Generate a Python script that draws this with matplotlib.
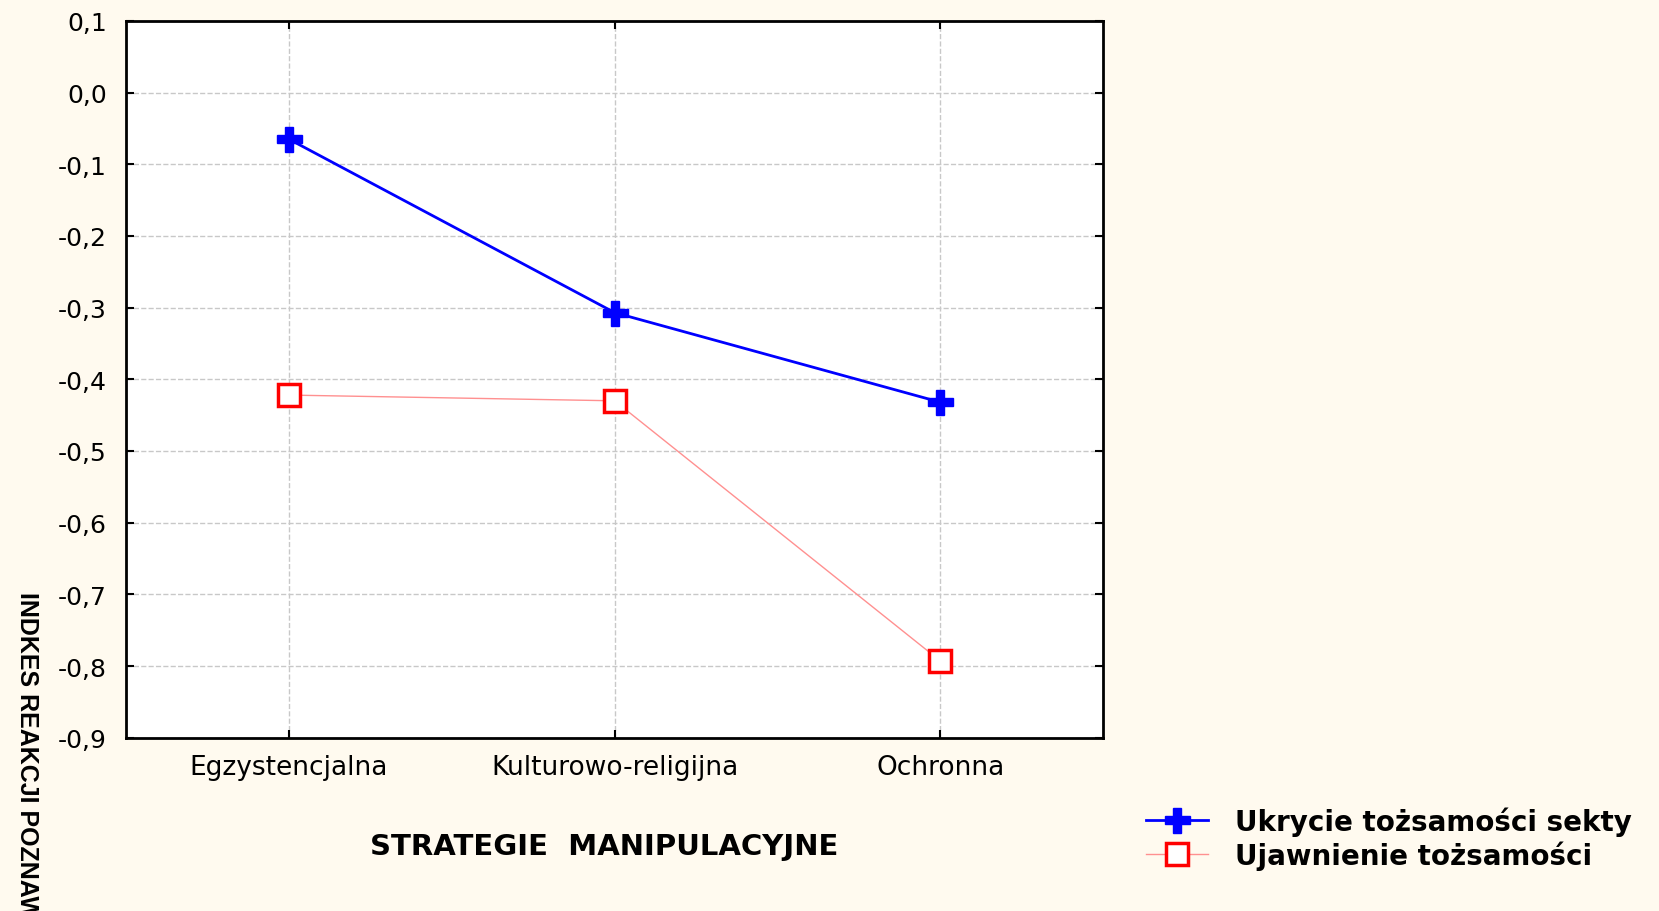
import numpy as np
import matplotlib.pyplot as plt

categories = ["Egzystencjalna", "Kulturowo-religijna", "Ochronna"]
ukrycie = [-0.065, -0.307, -0.432]
ujawnienie = [-0.422, -0.430, -0.793]
yticks = [0.1, 0.0, -0.1, -0.2, -0.3, -0.4, -0.5, -0.6, -0.7, -0.8, -0.9]

bg = "#fffaef"
fig = plt.figure(figsize=(16.59, 9.12), dpi=100, facecolor=bg)
ax = fig.add_axes([0.076, 0.190, 0.589, 0.786])
ax.set_facecolor("white")

x = np.arange(len(categories))
ax.plot(x, ukrycie, color="#0000ff", lw=2, marker="P", ms=18,
        mfc="#0000ff", mec="#0000ff", label="Ukrycie tożsamości sekty")
ax.plot(x, ujawnienie, color="#ff9090", lw=1, marker="s", ms=16,
        mfc="white", mec="#ff0000", mew=2.5, label="Ujawnienie tożsamości")

ax.set_xlim(-0.5, 2.5)
ax.set_ylim(-0.9, 0.1)
ax.set_xticks(x)
ax.set_xticklabels(categories, fontsize=19, family="DejaVu Sans")
ax.set_yticks(yticks)
ax.set_yticklabels([f"{v:.1f}".replace(".", ",") for v in yticks],
                   fontsize=18, family="DejaVu Sans")
ax.tick_params(direction="in", length=6, width=1.5, top=True, right=True)
ax.tick_params(axis="y", pad=14)
ax.tick_params(axis="x", pad=12)
ax.grid(True, ls="--", color="#c8c8c8", lw=1)
for s in ax.spines.values():
    s.set_linewidth(2)

fig.text(0.364, 0.071, "STRATEGIE  MANIPULACYJNE", ha="center", va="center",
         fontsize=21, fontweight="bold", family="DejaVu Sans")
fig.text(0.016, 0.351, "INDKES REAKCJI POZNAWCZEJ", rotation=270, ha="center",
         va="top", fontsize=18, fontweight="bold",
         family=["Liberation Sans Narrow", "Liberation Sans"])

leg = fig.legend(loc="center left", bbox_to_anchor=(0.676, 0.08), frameon=False,
                 prop={"family": "DejaVu Sans", "weight": "bold", "size": 20},
                 handlelength=2.2, handletextpad=1.0, labelspacing=0.15)

plt.savefig("out.png", facecolor=bg)
